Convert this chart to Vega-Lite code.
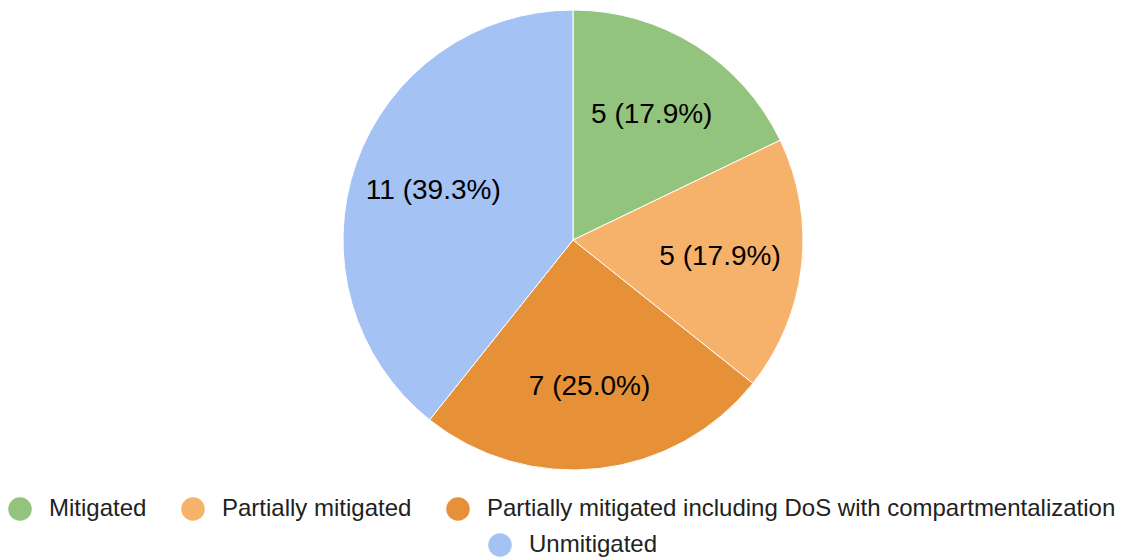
{
  "$schema": "https://vega.github.io/schema/vega-lite/v6.json",
  "width": 480,
  "height": 480,
  "autosize": "none",
  "padding": {"left": 333, "top": 0, "right": 312, "bottom": 78},
  "background": "white",
  "config": {"view": {"stroke": null}, "font": "Liberation Sans"},
  "data": {
    "values": [
      {"category": "Mitigated", "count": 5, "order": 1, "label": "5 (17.9%)"},
      {"category": "Partially mitigated", "count": 5, "order": 2, "label": "5 (17.9%)"},
      {"category": "Partially mitigated including DoS with compartmentalization", "count": 7, "order": 3, "label": "7 (25.0%)"},
      {"category": "Unmitigated", "count": 11, "order": 4, "label": "11 (39.3%)"}
    ]
  },
  "resolve": {"scale": {"color": "independent", "fill": "independent"}},
  "layer": [
    {
      "mark": {"type": "arc", "radius": 230, "stroke": "white", "strokeWidth": 1},
      "encoding": {
        "theta": {"field": "count", "type": "quantitative", "stack": true},
        "order": {"field": "order", "type": "quantitative"},
        "fill": {
          "field": "category", "type": "nominal",
          "scale": {
            "domain": ["Mitigated", "Partially mitigated", "Partially mitigated including DoS with compartmentalization", "Unmitigated"],
            "range": ["#93c47d", "#f6b26b", "#e69138", "#a4c2f4"]
          },
          "legend": {
            "values": ["Unmitigated"],
            "title": null, "orient": "none", "legendX": 155, "legendY": 533,
            "symbolType": "circle", "symbolSize": 552, "symbolStrokeWidth": 0,
            "labelFontSize": 24, "labelColor": "#222222", "labelFont": "Liberation Sans",
            "labelOffset": 17, "padding": 0, "labelLimit": 1000
          }
        }
      }
    },
    {
      "mark": {"type": "arc", "radius": 230, "stroke": "white", "strokeWidth": 1},
      "encoding": {
        "theta": {"field": "count", "type": "quantitative", "stack": true},
        "order": {"field": "order", "type": "quantitative"},
        "color": {
          "field": "category", "type": "nominal",
          "scale": {
            "domain": ["Mitigated", "Partially mitigated", "Partially mitigated including DoS with compartmentalization", "Unmitigated"],
            "range": ["#93c47d", "#f6b26b", "#e69138", "#a4c2f4"]
          },
          "legend": {
            "values": ["Mitigated", "Partially mitigated", "Partially mitigated including DoS with compartmentalization"],
            "title": null, "orient": "none", "direction": "horizontal", "legendX": -325, "legendY": 497,
            "symbolType": "circle", "symbolSize": 552, "symbolStrokeWidth": 0,
            "labelFontSize": 24, "labelColor": "#222222", "labelFont": "Liberation Sans",
            "labelOffset": 17, "columnPadding": 34, "padding": 0, "labelLimit": 1000
          }
        }
      }
    },
    {
      "mark": {"type": "text", "radius": 148, "fontSize": 28, "font": "Liberation Sans", "fill": "#000000"},
      "encoding": {
        "theta": {"field": "count", "type": "quantitative", "stack": true},
        "order": {"field": "order", "type": "quantitative"},
        "text": {"field": "label", "type": "nominal"}
      }
    }
  ]
}
